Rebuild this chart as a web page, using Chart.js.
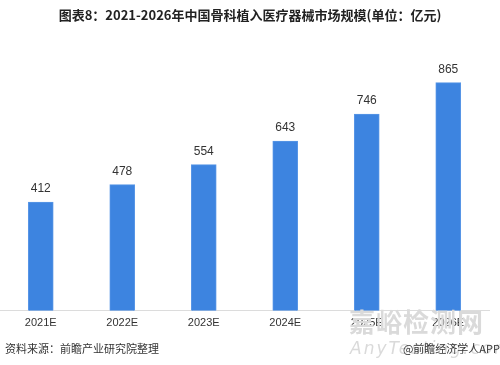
<!DOCTYPE html>
<html>
<head>
<meta charset="utf-8">
<script src="https://cdn.jsdelivr.net/npm/chart.js@4/dist/chart.umd.min.js"></script>
<style>
  html, body { margin: 0; padding: 0; background: #fff; }
  #wrap { position: relative; width: 500px; height: 365px; overflow: hidden; }
  #title {
    position: absolute; left: 0; top: 5px; width: 500px; text-align: center;
    font: bold 13px "Noto Sans CJK SC", sans-serif; color: #222;
  }
  .foot { position: absolute; top: 340px; font: 11px "Noto Sans CJK SC", sans-serif; color: #333; }
  .wm { position: absolute; color: #dadada; white-space: nowrap; }
</style>
</head>
<body>
<div id="wrap">
  <canvas id="chart" width="500" height="365"></canvas>
  <div id="title">图表8：2021-2026年中国骨科植入医疗器械市场规模(单位：亿元)</div>
  <div class="wm" style="left:349px;top:302px;font:bold 26px 'Noto Sans CJK SC',sans-serif;letter-spacing:1px;">嘉峪检测网</div>
  <div class="wm" style="left:350px;top:338px;font:italic 17px 'DejaVu Sans',sans-serif;letter-spacing:2px;">AnyTesting.com</div>
  <div class="foot" style="left:5px;">资料来源：前瞻产业研究院整理</div>
  <div class="foot" style="right:0;">@前瞻经济学人APP</div>
</div>
<script>
// market size, 100 million yuan
const years = ['2021E', '2022E', '2023E', '2024E', '2025E', '2026E'];
const marketSize = [412, 478, 554, 643, 746, 865];

// value labels above each bar
const valueLabels = {
  id: 'valueLabels',
  afterDatasetsDraw(chart) {
    const ctx = chart.ctx;
    const meta = chart.getDatasetMeta(0);
    ctx.save();
    ctx.font = '12px "Liberation Sans", Arial, sans-serif';
    ctx.fillStyle = '#333';
    ctx.textAlign = 'center';
    ctx.textBaseline = 'middle';
    meta.data.forEach((bar, i) => {
      ctx.fillText(marketSize[i], bar.x, bar.y - 13);
    });
    ctx.restore();
  }
};

new Chart(document.getElementById('chart'), {
  type: 'bar',
  data: {
    labels: years,
    datasets: [{
      data: marketSize,
      backgroundColor: '#3d84e0',
      borderColor: '#5a97e6',
      borderWidth: 1,
      barThickness: 25
    }]
  },
  options: {
    responsive: false,
    animation: false,
    layout: { padding: { top: 47, left: 0, right: 11, bottom: 29 } },
    plugins: { legend: { display: false }, tooltip: { enabled: false } },
    scales: {
      x: {
        grid: { display: false, drawTicks: false },
        border: { color: '#dcdcdc', width: 1 },
        ticks: { color: '#333', padding: 6, font: { size: 11, family: '"Liberation Sans", Arial, sans-serif' } }
      },
      y: { display: false, min: 0, max: 1000 }
    }
  },
  plugins: [valueLabels]
});
</script>
</body>
</html>
